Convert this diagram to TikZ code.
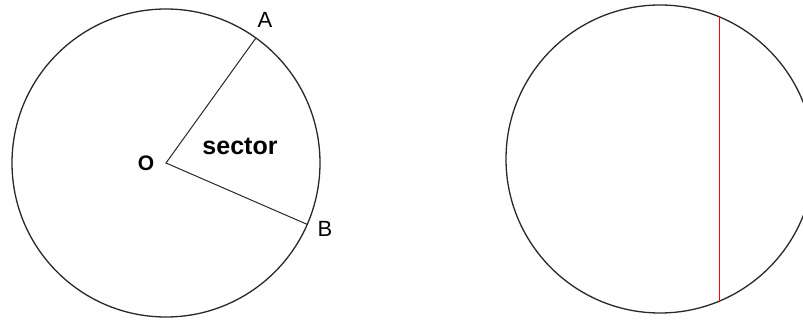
\documentclass[tikz,border=0pt]{standalone}
\usepackage{fontspec}
\setmainfont{Liberation Sans}
\usetikzlibrary{calc}
\definecolor{chordred}{RGB}{255,0,0}
\definecolor{rimgray}{RGB}{40,40,40}

\begin{document}
\begin{tikzpicture}[x=1pt,y=-1pt]
	\tikzset{rim/.style={draw=rimgray, line width=1.3pt},
		spoke/.style={draw=rimgray, line width=1pt},
		chord/.style={draw=chordred, line width=1.5pt},
		lbl/.style={font=\fontsize{22}{22}\selectfont, inner sep=0pt}}
	\useasboundingbox (0,0) rectangle (803,320);
	\clip (0,0) rectangle (803,320);
	% circle with sector
	\coordinate (O) at (166,163);
	\coordinate (A) at (255.9,38);
	\coordinate (B) at (307.2,224.4);
	\draw[rim] (O) circle (154);
	\draw[spoke] (A) -- (O) -- (B);
	\node[lbl, font=\bfseries\fontsize{21}{21}\selectfont] (labO) at (146,163) {O};
	\node[lbl] (labA) at (265,20) {A};
	\node[lbl] (labB) at (325,229) {B};
	\node[lbl, font=\bfseries\fontsize{25}{25}\selectfont] (sector) at (240,146) {sector};
	% circle with chord
	\coordinate (M) at (660,159);
	\coordinate (P) at (719.5,17);
	\coordinate (Q) at (719.5,301);
	\draw[rim] (M) circle (154);
	\draw[chord] (P) -- (Q);
\end{tikzpicture}
\end{document}
